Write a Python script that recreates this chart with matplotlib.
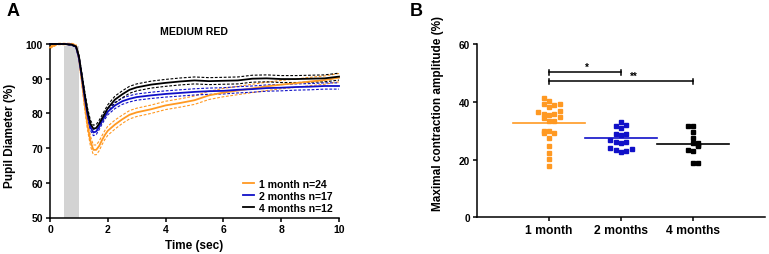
import matplotlib
matplotlib.use('Agg')
import matplotlib.pyplot as plt
import numpy as np

plt.rcParams['font.family'] = ['Liberation Sans', 'DejaVu Sans']
plt.rcParams['font.weight'] = 'bold'
plt.rcParams['axes.labelweight'] = 'bold'

# ---------------- Panel A data ----------------
time_s = [0, 0.25, 0.5, 0.75, 0.9, 1.0, 1.1, 1.2, 1.3, 1.4, 1.5, 1.6, 1.7, 1.8, 1.9,
          2.0, 2.25, 2.5, 2.75, 3.0, 3.5, 4.0, 4.5, 5.0, 5.5, 6.0, 6.5, 7.0, 7.5,
          8.0, 8.5, 9.0, 9.5, 10.0]
mean_1m = [99.0, 100, 100, 100, 99.5, 96.0, 89.5, 82.5, 76.5, 72.0, 69.5, 69.5, 70.6,
           72.3, 73.8, 75.0, 76.8, 78.3, 79.6, 80.3, 81.2, 82.3, 83.0, 83.8, 85.2,
           86.0, 86.6, 87.2, 87.8, 88.3, 88.7, 89.2, 89.6, 90.3]
mean_2m = [100, 100, 100, 99.8, 99.2, 96.0, 90.5, 84.5, 79.5, 76.0, 74.5, 74.8, 76.2,
           77.8, 79.2, 80.5, 82.3, 83.5, 84.2, 84.7, 85.2, 85.6, 85.9, 86.2, 86.4,
           86.5, 86.8, 87.0, 87.3, 87.4, 87.6, 87.7, 87.9, 87.9]
mean_4m = [100, 100, 100, 99.8, 99.3, 96.5, 91.0, 85.5, 80.5, 77.0, 75.6, 75.8, 77.0,
           78.5, 80.0, 81.5, 84.0, 85.5, 86.8, 87.5, 88.3, 88.8, 89.2, 89.5, 89.3,
           89.4, 89.5, 90.0, 90.1, 89.9, 89.9, 90.0, 90.1, 90.6]
sem_1m = [0.3, 0.2, 0.2, 0.2, 0.3, 0.6, 1.0, 1.2, 1.3, 1.4, 1.4, 1.4, 1.4, 1.3, 1.3,
          1.3, 1.3, 1.2, 1.2, 1.2, 1.2, 1.2, 1.2, 1.2, 1.2, 1.2, 1.2, 1.2, 1.2,
          1.2, 1.2, 1.2, 1.2, 1.2]
sem_2m = [0.1, 0.1, 0.1, 0.1, 0.2, 0.4, 0.7, 0.8, 0.9, 0.9, 0.9, 0.9, 0.9, 0.9, 0.9,
          0.9, 0.9, 0.9, 0.9, 0.9, 0.9, 0.9, 0.9, 0.9, 0.9, 0.9, 0.9, 0.9, 0.9,
          0.9, 0.9, 0.9, 0.9, 0.9]
sem_4m = [0.1, 0.1, 0.1, 0.1, 0.2, 0.4, 0.7, 0.9, 1.0, 1.0, 1.0, 1.0, 1.0, 1.0, 1.0,
          1.0, 1.0, 1.0, 1.0, 1.0, 1.0, 1.0, 1.0, 1.0, 1.0, 1.0, 1.0, 1.0, 1.0,
          1.0, 1.0, 1.0, 1.0, 1.0]
legend_labels = ['1 month n=24', '2 months n=17', '4 months n=12']
stimulus = [0.5, 1.0]

# ---------------- Panel B data ----------------
categories = ['1 month', '2 months', '4 months']
amp_1m = [41.2, 40.2, 39.1, 38.1, 38.8, 39.3, 36.6, 35.8, 35.5, 35.8, 36.7, 34.4,
          34.7, 33.2, 33.3, 30.0, 29.2, 29.8, 29.1, 27.6, 24.6, 22.2, 20.1, 17.8]
slot_1m = [-1, 0, -1, 0, 1, 2, -2, -1, 0, 1, 2, -1, 2, 0, 1, -1, -1, 0, 1, 0, 0, 0, 0, 0]
amp_2m = [33.1, 31.6, 32.1, 30.8, 28.9, 28.5, 28.8, 26.7, 26.1, 25.8, 26.2, 24.1,
          23.3, 22.7, 22.9, 23.6]
slot_2m = [0, -1, 1, 0, -1, 0, 1, -2, -1, 0, 1, -2, -1, 0, 1, 2]
amp_4m = [31.7, 31.5, 29.5, 27.6, 25.7, 25.7, 24.7, 25.0, 23.4, 23.0, 18.7, 18.7]
slot_4m = [-1, 0, 0, 0, 0, 1, 1, 1, -1, 0, 0, 1]
group_means = [32.7, 27.3, 25.4]
sig_pairs = [(1, 2), (1, 3)]
sig_levels = [50.2, 47.1]
sig_text = ['*', '**']

c_or = '#FF9922'
c_bl = '#1010C8'
c_bk = '#000000'

W, H = 769, 255
fig = plt.figure(figsize=(W / 100, H / 100), dpi=100)

def style_axes(ax):
    for s in ['top', 'right']:
        ax.spines[s].set_visible(False)
    for s in ['left', 'bottom']:
        ax.spines[s].set_linewidth(1.1)
    ax.tick_params(direction='out', length=3, width=1.1, pad=2)

# ---------- Panel A ----------
axA = fig.add_axes([50 / W, 1 - 218.5 / H, 289 / W, 173.5 / H])
style_axes(axA)
axA.axvspan(stimulus[0], stimulus[1], ymin=0, ymax=0.99, color='#D3D3D3', lw=0, zorder=0)
t = np.array(time_s)
for m, s, c, lab in [(mean_1m, sem_1m, c_or, legend_labels[0]),
                     (mean_2m, sem_2m, c_bl, legend_labels[1]),
                     (mean_4m, sem_4m, c_bk, legend_labels[2])]:
    m = np.array(m); s = np.array(s)
    axA.plot(t, m, color=c, lw=1.3, label=lab, zorder=3, clip_on=False)
    axA.plot(t, m + s, color=c, lw=0.8, ls=(0, (2.5, 1.5)), zorder=2, clip_on=False)
    axA.plot(t, m - s, color=c, lw=0.8, ls=(0, (2.5, 1.5)), zorder=2, clip_on=False)
axA.set_xlim(0, 10)
axA.set_ylim(50, 100)
axA.set_xticks([0, 2, 4, 6, 8, 10])
axA.set_yticks([50, 60, 70, 80, 90, 100])
axA.tick_params(labelsize=7.5)
axA.set_xlabel('Time (sec)', fontsize=8.5)
axA.set_ylabel('Pupil Diameter (%)', fontsize=8.5)
axA.yaxis.set_label_coords(-0.118, 0.475)
axA.xaxis.set_label_coords(0.5, -0.122)
axA.set_title('MEDIUM RED', fontsize=7.6, fontweight='bold', pad=7)
leg = axA.legend(loc='lower right', bbox_to_anchor=(1.0, -0.01), frameon=False,
                 fontsize=7.6, handlelength=1.0, handletextpad=0.5,
                 labelspacing=0.2, borderaxespad=0.2)
for txt in leg.get_texts():
    txt.set_fontweight('bold')
fig.text(13 / W, 1 - 12 / H, 'A', fontsize=13, fontweight='bold', ha='center', va='center')

# ---------- Panel B ----------
axB = fig.add_axes([477 / W, 1 - 218.3 / H, 288 / W, 173.3 / H])
style_axes(axB)
slot_w = 0.075
for i, (vals, slots, c) in enumerate([(amp_1m, slot_1m, c_or),
                                      (amp_2m, slot_2m, c_bl),
                                      (amp_4m, slot_4m, c_bk)]):
    xpos = i + 1 + np.array(slots) * slot_w
    axB.plot(xpos, vals, ls='none', marker='s', ms=3.3, color=c, mec=c, zorder=3)
    axB.plot([i + 0.5, i + 1.5], [group_means[i], group_means[i]], color=c, lw=1.2, zorder=2)
for (a, b), yv, st in zip(sig_pairs, sig_levels, sig_text):
    axB.plot([a, b], [yv, yv], color='black', lw=1.1)
    axB.plot([a, a], [yv - 0.8, yv + 0.8], color='black', lw=1.1)
    axB.plot([b, b], [yv - 0.8, yv + 0.8], color='black', lw=1.1)
axB.text(1.52, sig_levels[0] + 0.2, sig_text[0], fontsize=7, ha='center', va='bottom')
axB.text(2.18, sig_levels[1] + 0.2, sig_text[1], fontsize=7, ha='center', va='bottom')
axB.set_xlim(0, 4)
axB.set_ylim(0, 60)
axB.set_xticks([1, 2, 3])
axB.set_xticklabels(categories, fontsize=8.7, fontweight='bold')
axB.set_yticks([0, 20, 40, 60])
axB.tick_params(axis='y', labelsize=7.2)
axB.tick_params(axis='x', pad=1.5)
axB.set_ylabel('Maximal contraction amplitude (%)', fontsize=8.5)
axB.yaxis.set_label_coords(-0.115, 0.607)
fig.text(416 / W, 1 - 12 / H, 'B', fontsize=13, fontweight='bold', ha='center', va='center')

fig.savefig('out.png', dpi=100)
